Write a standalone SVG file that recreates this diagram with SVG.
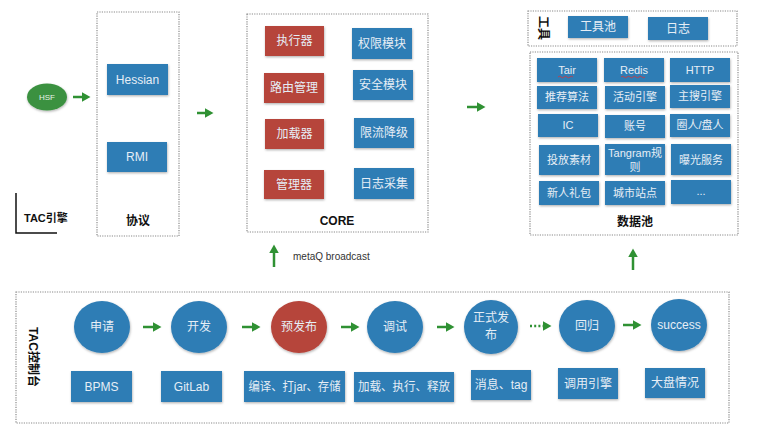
<svg xmlns="http://www.w3.org/2000/svg" width="759" height="439" viewBox="0 0 759 439">
<style>
text{font-family:"Liberation Sans","Noto Sans CJK SC",sans-serif;}
.frame{fill:none;stroke:#8a8a8a;stroke-width:1.2;stroke-dasharray:1.2 1.2;}
.blue{fill:#2f7db5;}
.red{fill:#b6443a;}
.lbl{fill:#e6eef6;font-size:12px;text-anchor:middle;}
.lbls{fill:#e6eef6;font-size:11px;text-anchor:middle;}
.ttl{fill:#111;font-size:12px;font-weight:bold;text-anchor:middle;}
.arr{stroke:#2f9133;stroke-width:2.5;fill:none;}
</style>
<defs>
<marker id="ah" markerWidth="4" markerHeight="4" refX="2" refY="2" orient="auto" markerUnits="strokeWidth">
<path d="M0,0.1 L3.4,2 L0,3.9 Z" fill="#2f9133"/>
</marker>
<filter id="sh" x="-10%" y="-10%" width="130%" height="140%">
<feDropShadow dx="0.5" dy="1.2" stdDeviation="0.8" flood-color="#000" flood-opacity="0.3"/>
</filter>
</defs>
<rect width="759" height="439" fill="#fff"/>

<!-- frames -->
<g id="frames">
<rect class="frame" x="97" y="12" width="82" height="224"/>
<rect class="frame" x="247" y="14" width="181" height="218"/>
<rect class="frame" x="528" y="11" width="209" height="35"/>
<rect class="frame" x="530" y="52" width="208" height="183"/>
<rect class="frame" x="16" y="292" width="713" height="131"/>
<text class="ttl" x="138" y="225">协议</text>
<text class="ttl" x="337" y="225">CORE</text>
<text class="ttl" x="635" y="226">数据池</text>
<text class="ttl" transform="translate(539,28) rotate(90)" font-size="10">工具</text>
<text class="ttl" transform="translate(29,357) rotate(90)" font-size="11">TAC控制台</text>
<path d="M16,193 V233 H57" fill="none" stroke="#111" stroke-width="1.5"/>
<text x="24" y="222" font-size="11" font-weight="bold" fill="#111">TAC引擎</text>
<text x="293" y="260" font-size="10" fill="#333">metaQ broadcast</text>
</g>

<g id="hsf"><ellipse cx="47" cy="97" rx="20" ry="13.5" fill="#3b9140" filter="url(#sh)"/><text x="47" y="100" font-size="8" fill="#e6f2e6" text-anchor="middle">HSF</text></g>

<g id="hessian"><rect class="blue" x="107" y="64" width="61" height="31" filter="url(#sh)"/><text class="lbl" x="137.5" y="84">Hessian</text></g>
<g id="rmi"><rect class="blue" x="107" y="142" width="60" height="30" filter="url(#sh)"/><text class="lbl" x="137" y="161">RMI</text></g>

<g id="exec"><rect class="red" x="265" y="26" width="59" height="30" filter="url(#sh)"/><text class="lbl" x="294.5" y="45">执行器</text></g>
<g id="route"><rect class="red" x="264" y="73" width="60" height="30" filter="url(#sh)"/><text class="lbl" x="294" y="92">路由管理</text></g>
<g id="loader"><rect class="red" x="265" y="119" width="59" height="30" filter="url(#sh)"/><text class="lbl" x="294.5" y="138">加载器</text></g>
<g id="manager"><rect class="red" x="264" y="170" width="60" height="29" filter="url(#sh)"/><text class="lbl" x="294" y="189">管理器</text></g>
<g id="perm"><rect class="blue" x="352" y="28" width="60" height="31" filter="url(#sh)"/><text class="lbl" x="382" y="48">权限模块</text></g>
<g id="sec"><rect class="blue" x="353" y="70" width="60" height="30" filter="url(#sh)"/><text class="lbl" x="383" y="89">安全模块</text></g>
<g id="limit"><rect class="blue" x="354" y="118" width="60" height="30" filter="url(#sh)"/><text class="lbl" x="384" y="137">限流降级</text></g>
<g id="log"><rect class="blue" x="354" y="168" width="60" height="31" filter="url(#sh)"/><text class="lbl" x="384" y="188">日志采集</text></g>

<g id="toolpool"><rect class="blue" x="568" y="16" width="60" height="22" filter="url(#sh)"/><text class="lbl" x="598" y="31">工具池</text></g>
<g id="toollog"><rect class="blue" x="648" y="17" width="60" height="23" filter="url(#sh)"/><text class="lbl" x="678" y="33">日志</text></g>

<g id="tair"><rect class="blue" x="537" y="58" width="60" height="24" filter="url(#sh)"/><text class="lbls" x="567" y="74">Tair</text><path d="M558,77 q1.5,-1.5 3,0 t3,0 t3,0 t3,0 t3,0" fill="none" stroke="#d33" stroke-width="0.8"/></g>
<g id="redis"><rect class="blue" x="604" y="58" width="60" height="24" filter="url(#sh)"/><text class="lbls" x="634" y="74">Redis</text><path d="M621,77 q1.5,-1.5 3,0 t3,0 t3,0 t3,0 t3,0 t3,0 t3,0 t3,0" fill="none" stroke="#d33" stroke-width="0.8"/></g>
<g id="http"><rect class="blue" x="670" y="58" width="60" height="24" filter="url(#sh)"/><text class="lbls" x="700" y="74">HTTP</text></g>
<g id="algo"><rect class="blue" x="537" y="86" width="60" height="23" filter="url(#sh)"/><text class="lbls" x="567" y="101">推荐算法</text></g>
<g id="activity"><rect class="blue" x="605" y="86" width="60" height="23" filter="url(#sh)"/><text class="lbls" x="635" y="101">活动引擎</text></g>
<g id="search"><rect class="blue" x="670" y="85" width="60" height="23" filter="url(#sh)"/><text class="lbls" x="700" y="100">主搜引擎</text></g>
<g id="ic"><rect class="blue" x="538" y="114" width="60" height="23" filter="url(#sh)"/><text class="lbls" x="568" y="129">IC</text></g>
<g id="account"><rect class="blue" x="605" y="115" width="60" height="23" filter="url(#sh)"/><text class="lbls" x="635" y="130">账号</text></g>
<g id="circle"><rect class="blue" x="670" y="114" width="60" height="23" filter="url(#sh)"/><text class="lbls" x="700" y="129">圈人/盘人</text></g>
<g id="material"><rect class="blue" x="539" y="145" width="60" height="30" filter="url(#sh)"/><text class="lbls" x="569" y="164">投放素材</text></g>
<g id="tangram"><rect class="blue" x="605" y="144" width="60" height="31" filter="url(#sh)"/><text class="lbls" x="635" y="157">Tangram规</text><text class="lbls" x="635" y="171">则</text></g>
<g id="exposure"><rect class="blue" x="671" y="144" width="60" height="31" filter="url(#sh)"/><text class="lbls" x="701" y="164">曝光服务</text></g>
<g id="gift"><rect class="blue" x="539" y="181" width="60" height="24" filter="url(#sh)"/><text class="lbls" x="569" y="197">新人礼包</text></g>
<g id="city"><rect class="blue" x="605" y="181" width="60" height="24" filter="url(#sh)"/><text class="lbls" x="635" y="197">城市站点</text></g>
<g id="more"><rect class="blue" x="671" y="180" width="60" height="24" filter="url(#sh)"/><text class="lbls" x="701" y="195">...</text></g>

<g id="apply"><ellipse cx="102" cy="327" rx="28" ry="26" class="blue" filter="url(#sh)"/><text class="lbl" x="102" y="331">申请</text></g>
<g id="dev"><ellipse cx="199" cy="327" rx="28" ry="26" class="blue" filter="url(#sh)"/><text class="lbl" x="199" y="331">开发</text></g>
<g id="prerelease"><ellipse cx="299" cy="327" rx="28" ry="26" class="red" filter="url(#sh)"/><text class="lbl" x="299" y="331">预发布</text></g>
<g id="debug"><ellipse cx="395" cy="327" rx="28" ry="26" class="blue" filter="url(#sh)"/><text class="lbl" x="395" y="331">调试</text></g>
<g id="release"><ellipse cx="491" cy="327" rx="27" ry="27" class="blue" filter="url(#sh)"/><text class="lbl" x="491" y="322">正式发</text><text class="lbl" x="491" y="339">布</text></g>
<g id="regress"><ellipse cx="587" cy="326" rx="28" ry="26" class="blue" filter="url(#sh)"/><text class="lbl" x="587" y="330">回归</text></g>
<g id="success"><ellipse cx="679" cy="325" rx="28" ry="26" class="blue" filter="url(#sh)"/><text class="lbl" x="679" y="329">success</text></g>

<g id="bpms"><rect class="blue" x="71" y="371" width="61" height="31" filter="url(#sh)"/><text class="lbl" x="101.5" y="391">BPMS</text></g>
<g id="gitlab"><rect class="blue" x="161" y="371" width="61" height="31" filter="url(#sh)"/><text class="lbl" x="191.5" y="391">GitLab</text></g>
<g id="compile"><rect class="blue" x="244" y="371" width="101" height="31" filter="url(#sh)"/><text class="lbl" x="294.5" y="391" textLength="92" lengthAdjust="spacingAndGlyphs">编译、打jar、存储</text></g>
<g id="load"><rect class="blue" x="354" y="372" width="100" height="30" filter="url(#sh)"/><text class="lbl" x="404" y="391" textLength="92" lengthAdjust="spacingAndGlyphs">加载、执行、释放</text></g>
<g id="msg"><rect class="blue" x="471" y="370" width="60" height="30" filter="url(#sh)"/><text class="lbl" x="501" y="389">消息、tag</text></g>
<g id="invoke"><rect class="blue" x="558" y="368" width="60" height="31" filter="url(#sh)"/><text class="lbl" x="588" y="388">调用引擎</text></g>
<g id="dash"><rect class="blue" x="645" y="368" width="60" height="30" filter="url(#sh)"/><text class="lbl" x="675" y="387">大盘情况</text></g>

<g id="connectors">
<line class="arr" x1="73" y1="97" x2="87" y2="97" marker-end="url(#ah)"/>
<line class="arr" x1="197" y1="113" x2="210" y2="113" marker-end="url(#ah)"/>
<line class="arr" x1="467" y1="107" x2="482" y2="107" marker-end="url(#ah)"/>
<line class="arr" x1="274" y1="267" x2="274" y2="248" marker-end="url(#ah)"/>
<line class="arr" x1="633" y1="270" x2="633" y2="252" marker-end="url(#ah)"/>
<line class="arr" x1="143" y1="327" x2="158" y2="327" marker-end="url(#ah)"/>
<line class="arr" x1="242" y1="327" x2="257" y2="327" marker-end="url(#ah)"/>
<line class="arr" x1="341" y1="327" x2="356" y2="327" marker-end="url(#ah)"/>
<line class="arr" x1="437" y1="327" x2="451" y2="327" marker-end="url(#ah)"/>
<line class="arr" x1="530" y1="326" x2="548" y2="326" stroke-dasharray="2 2.2" marker-end="url(#ah)"/>
<line class="arr" x1="623" y1="325" x2="638" y2="325" marker-end="url(#ah)"/>
</g>
</svg>
